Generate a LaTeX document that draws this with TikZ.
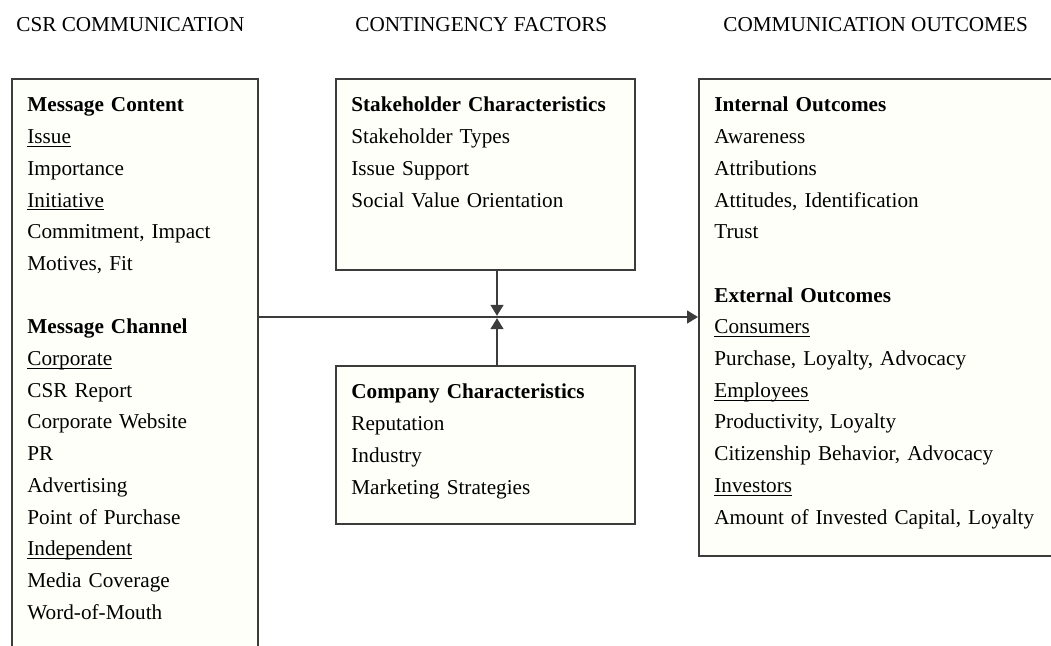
\documentclass[tikz,border=0pt]{standalone}
\usepackage{fontspec}
\setmainfont{Liberation Serif}
\usetikzlibrary{arrows.meta,positioning}
\definecolor{csrgray}{RGB}{60,60,60}
\definecolor{csrpaper}{RGB}{255,255,250}
\newcommand{\csrfont}{\fontsize{10.6}{15.85}\selectfont}
\newcommand{\csrul}[1]{\underline{\smash{#1}}}
\tikzstyle{box} = [draw=csrgray, line width=0.9pt, fill=csrpaper, anchor=north west, inner sep=0pt]
\tikzstyle{boxtext} = [anchor=base west, align=left, inner sep=0pt, font=\csrfont]
\tikzstyle{head} = [anchor=base west, inner sep=0pt, font=\csrfont]
\tikzstyle{arrow} = [line width=0.75pt, color=csrgray, -{Triangle[length=5.5pt,width=6.5pt]}]

\begin{document}
\begin{tikzpicture}[x=0.5pt,y=-0.5pt]
\clip (0,0) rectangle (1051,646);

% Column headings
\node[head] (hcsr) at (16,31.7) {CSR COMMUNICATION};
\node[head] (hcont) at (355,31.7) {CONTINGENCY FACTORS};
\node[head] (hout) at (723,31.7) {COMMUNICATION OUTCOMES};

% Boxes
\node[box, minimum width=123pt, minimum height=311pt] (csr) at (11,78) {};
\node[box, minimum width=149.5pt, minimum height=95.5pt] (stake) at (335,78) {};
\node[box, minimum width=149.5pt, minimum height=79pt] (company) at (335,365) {};
\node[box, minimum width=200pt, minimum height=238.5pt] (outcome) at (698,78) {};

% CSR communication
\node[boxtext, text width=112pt] (csrtext) at (27,112) {\textbf{Message Content}\\
\csrul{Issue}\\
Importance\\
\csrul{Initiative}\\
Commitment, Impact\\
Motives, Fit\\[15.85pt]
\textbf{Message Channel}\\
\csrul{Corporate}\\
CSR Report\\
Corporate Website\\
PR\\
Advertising\\
Point of Purchase\\
\csrul{Independent}\\
Media Coverage\\
Word-of-Mouth};

% Contingency factors
\node[boxtext, text width=140pt] (staketext) at (351,112) {\textbf{Stakeholder Characteristics}\\
Stakeholder Types\\
Issue Support\\
Social Value Orientation};
\node[boxtext, text width=140pt] (companytext) at (351,399) {\textbf{Company Characteristics}\\
Reputation\\
Industry\\
Marketing Strategies};

% Communication outcomes
\node[boxtext, text width=165pt] (outcometext) at (714,112) {\textbf{Internal Outcomes}\\
Awareness\\
Attributions\\
Attitudes, Identification\\
Trust\\[15.85pt]
\textbf{External Outcomes}\\
\csrul{Consumers}\\
Purchase, Loyalty, Advocacy\\
\csrul{Employees}\\
Productivity, Loyalty\\
Citizenship Behavior, Advocacy\\
\csrul{Investors}\\
Amount of Invested Capital, Loyalty};

% Arrows
\coordinate (mid) at (497,317);
\draw[arrow] (csr.east |- mid) -- (outcome.west |- mid);
\draw[arrow, shorten >=0.6pt] (stake.south -| mid) -- (mid);
\draw[arrow, shorten >=0.6pt] (company.north -| mid) -- (mid);
\end{tikzpicture}
\end{document}
